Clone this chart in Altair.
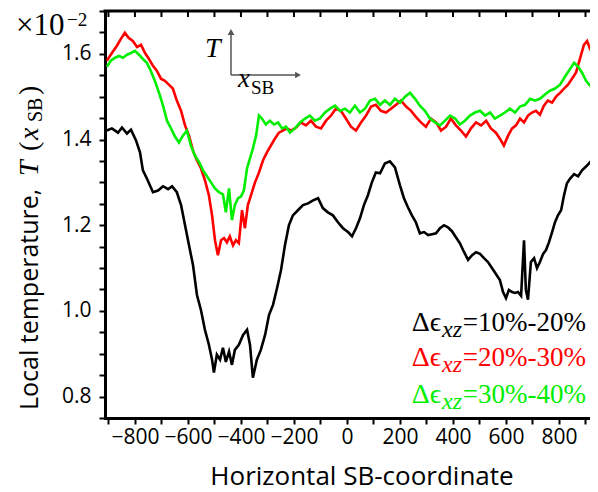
import altair as alt
import pandas as pd

# ---------------- data ----------------
black_x = [-906,-887,-864,-849,-830,-815,-796,-781,-770,-755,
           -732,-713,-694,-675,-660,-642,-626,-611,-596,-581,
           -566,-551,-536,-521,-509,-502,-491,-479,-468,-457,
           -445,-434,-423,-408,-392,-377,-366,-355,-340,-325,
           -309,-294,-279,-264,-249,-234,-219,-204,-185,-166,
           -147,-128,-109,-91,-72,-53,-34,-15,4,19,
           34,49,64,79,94,109,125,143,162,181,
           200,215,230,245,260,275,291,306,321,336,
           351,366,381,396,411,426,442,457,472,487,
           502,517,532,547,562,577,589,600,611,623,
           634,645,657,668,675,683,694,706,717,728,
           740,751,762,774,785,796,808,819,830,842,
           857,872,887,902,917,932,947]
black_T = [1.421,1.426,1.416,1.428,1.414,1.423,1.398,1.370,1.328,1.309,
           1.277,1.281,1.291,1.284,1.291,1.277,1.247,1.200,1.153,1.107,
           1.037,1.002,0.956,0.921,0.886,0.856,0.898,0.886,0.914,0.881,
           0.905,0.874,0.909,0.921,0.944,0.956,0.921,0.844,0.886,0.909,
           0.944,0.991,1.014,1.053,1.095,1.153,1.200,1.223,1.235,1.247,
           1.251,1.258,1.263,1.240,1.230,1.223,1.207,1.193,1.184,1.174,
           1.193,1.216,1.247,1.270,1.300,1.323,1.321,1.344,1.349,1.335,
           1.293,1.263,1.242,1.223,1.207,1.181,1.184,1.177,1.179,1.181,
           1.193,1.200,1.195,1.186,1.172,1.158,1.137,1.119,1.130,1.137,
           1.133,1.123,1.114,1.100,1.086,1.072,1.044,1.030,1.049,1.044,
           1.042,1.044,1.035,1.165,1.049,1.026,1.114,1.123,1.100,1.114,
           1.133,1.142,1.160,1.184,1.207,1.223,1.235,1.270,1.298,1.309,
           1.319,1.314,1.328,1.337,1.347,1.356,1.367]

red_x = [-906,-887,-868,-853,-838,-823,-808,-792,-777,-762,
         -747,-732,-717,-702,-687,-672,-657,-642,-626,-611,
         -596,-581,-566,-551,-536,-521,-509,-498,-487,-475,
         -464,-453,-442,-430,-419,-408,-396,-385,-374,-362,
         -347,-332,-317,-302,-287,-272,-257,-242,-226,-211,
         -192,-174,-155,-136,-117,-98,-79,-60,-42,-23,
         -4,15,34,53,72,91,109,128,147,166,
         185,204,223,242,260,279,298,317,336,355,
         374,392,411,430,449,468,487,506,525,543,
         562,577,592,608,623,638,653,668,683,698,
         713,728,743,758,774,789,804,819,834,849,
         864,879,894,906,917,932,947]
red_T = [1.584,1.602,1.619,1.635,1.649,1.637,1.630,1.616,1.621,1.602,
         1.588,1.572,1.560,1.542,1.537,1.528,1.519,1.491,1.467,1.433,
         1.409,1.374,1.351,1.333,1.305,1.270,1.223,1.165,1.130,1.165,
         1.170,1.160,1.174,1.153,1.165,1.158,1.235,1.193,1.247,1.270,
         1.300,1.323,1.351,1.370,1.386,1.402,1.416,1.421,1.426,1.421,
         1.428,1.440,1.433,1.444,1.430,1.426,1.444,1.456,1.472,1.467,
         1.449,1.430,1.421,1.440,1.456,1.477,1.481,1.467,1.463,1.472,
         1.481,1.491,1.477,1.467,1.453,1.440,1.430,1.449,1.440,1.421,
         1.430,1.449,1.433,1.421,1.407,1.426,1.440,1.433,1.444,1.426,
         1.416,1.402,1.386,1.409,1.426,1.433,1.449,1.440,1.456,1.463,
         1.467,1.458,1.479,1.491,1.486,1.500,1.509,1.519,1.528,1.542,
         1.556,1.588,1.621,1.630,1.612,1.595,1.607]

green_x = [-906,-891,-875,-860,-845,-830,-815,-800,-785,-770,
           -755,-740,-725,-709,-694,-679,-664,-649,-634,-619,
           -604,-589,-574,-558,-543,-528,-513,-498,-483,-468,
           -457,-445,-434,-423,-411,-400,-389,-377,-366,-355,
           -343,-332,-321,-306,-291,-275,-260,-245,-230,-215,
           -196,-177,-158,-140,-121,-102,-83,-64,-45,-26,
           -8,11,30,49,68,87,106,125,143,162,
           181,200,219,238,257,275,294,313,332,351,
           370,389,408,426,445,464,483,502,521,540,
           558,577,596,615,634,653,672,691,709,728,
           747,766,785,804,823,842,857,872,887,902,
           917,932,947]
green_T = [1.570,1.584,1.591,1.595,1.591,1.598,1.602,1.607,1.598,1.588,
           1.579,1.560,1.537,1.509,1.479,1.444,1.426,1.407,1.393,1.409,
           1.421,1.386,1.363,1.347,1.328,1.314,1.300,1.286,1.277,1.272,
           1.230,1.286,1.212,1.247,1.263,1.267,1.281,1.333,1.356,1.379,
           1.409,1.456,1.449,1.435,1.444,1.435,1.440,1.426,1.430,1.416,
           1.426,1.440,1.449,1.456,1.444,1.449,1.463,1.472,1.479,1.467,
           1.472,1.463,1.479,1.463,1.472,1.491,1.495,1.481,1.491,1.481,
           1.495,1.486,1.500,1.509,1.495,1.479,1.467,1.449,1.440,1.433,
           1.444,1.456,1.449,1.435,1.444,1.456,1.463,1.467,1.456,1.463,
           1.449,1.456,1.463,1.472,1.463,1.477,1.481,1.495,1.491,1.495,
           1.505,1.514,1.519,1.528,1.547,1.565,1.579,1.570,1.556,1.537,
           1.526,1.542,1.556]

series_names = ["10-20", "20-30", "30-40"]
series_colors = ["#000000", "#ff0000", "#00ee00"]
legend_values = ["=10%-20%", "=20%-30%", "=30%-40%"]

x_ticks = list(range(-900, 901, 100))
y_ticks = [round(0.75 + 0.05 * i, 2) for i in range(20)]
x_domain = [-913, 917]
y_domain = [0.75, 1.70]

assert len(black_x) == len(black_T)
assert len(red_x) == len(red_T)
assert len(green_x) == len(green_T)

rows = []
for name, xs, ts in zip(series_names, [black_x, red_x, green_x], [black_T, red_T, green_T]):
    for xv, tv in zip(xs, ts):
        rows.append({"x": xv, "T": tv, "series": name})
df = pd.DataFrame(rows)

# ---------------- layout ----------------
W, H = 485, 407
SANS = "Open Sans"
SERIF = "Liberation Serif"

xscale = alt.Scale(domain=x_domain, nice=False, zero=False)
yscale = alt.Scale(domain=y_domain, nice=False, zero=False)

x_axis = alt.Axis(values=x_ticks,
                  labelExpr="datum.value % 200 == 0 ? format(datum.value, 'd') : ''",
                  tickSize=6, tickWidth=2, tickColor="black",
                  domainColor="black", domainWidth=3, domainCap="square",
                  labelFont=SANS, labelFontSize=21, labelColor="black",
                  labelPadding=2, labelOverlap=False, labelFlush=False,
                  title=None, grid=False)
y_axis = alt.Axis(values=y_ticks,
                  labelExpr="round(datum.value*100) % 20 == 0 ? format(datum.value, '.1f') : ''",
                  tickSize=6, tickWidth=2, tickColor="black",
                  domainColor="black", domainWidth=3, domainCap="square",
                  labelFont=SANS, labelFontSize=21, labelColor="black",
                  labelPadding=8, labelOverlap=False, labelFlush=False,
                  title=None, grid=False)

lines = alt.Chart(df).mark_line(strokeWidth=2.6, clip=True).encode(
    x=alt.X("x:Q", scale=xscale, axis=x_axis),
    y=alt.Y("T:Q", scale=yscale, axis=y_axis),
    color=alt.Color("series:N", scale=alt.Scale(domain=series_names, range=series_colors), legend=None),
)

top_ticks = alt.Chart(pd.DataFrame({"x": x_ticks})).mark_rule(strokeWidth=2, color="black").encode(
    x=alt.X("x:Q", scale=xscale, axis=x_axis),
    y=alt.value(0), y2=alt.value(6),
)

one = pd.DataFrame({"a": [0]})
top_border = alt.Chart(one).mark_rule(strokeWidth=3, color="black", strokeCap="square").encode(
    x=alt.value(0), x2=alt.value(W), y=alt.value(0))


def txt(text, x, y, size, font=SERIF, color="black", align="left", baseline="alphabetic",
        angle=0, style="normal"):
    return alt.Chart(one).mark_text(text=text, font=font, fontSize=size, color=color,
                                    align=align, baseline=baseline, angle=angle,
                                    fontStyle=style).encode(x=alt.value(x), y=alt.value(y))


layers = [lines, top_ticks, top_border]

# axis titles
layers.append(txt("Horizontal SB-coordinate", 257, 474, 26, font=SANS, align="center"))
layers.append(txt("Local temperature,", -75, 399, 25, font=SANS, angle=270, baseline="middle"))
layers.append(txt("T", -75, 165, 28, angle=270, baseline="middle", style="italic"))
layers.append(txt("(", -75, 140, 28, angle=270, baseline="middle"))
layers.append(txt("x", -75, 129, 28, angle=270, baseline="middle", style="italic"))
layers.append(txt("SB", -69, 111, 20, angle=270, baseline="middle"))
layers.append(txt(")", -75, 84, 28, angle=270, baseline="middle"))

# exponent
layers.append(txt("×10", -89, 24, 31))
layers.append(txt("−2", -38, 15, 19))

# inset axes sketch
GRAY = "#555555"
layers.append(alt.Chart(one).mark_rule(color=GRAY, strokeWidth=1.5).encode(
    x=alt.value(126), y=alt.value(22), y2=alt.value(64)))
layers.append(alt.Chart(one).mark_rule(color=GRAY, strokeWidth=1.5).encode(
    x=alt.value(126), x2=alt.value(191), y=alt.value(64)))
layers.append(alt.Chart(one).mark_point(shape="triangle-up", filled=True, size=45, color=GRAY, opacity=1).encode(
    x=alt.value(126), y=alt.value(21)))
layers.append(alt.Chart(one).mark_point(shape="triangle-right", filled=True, size=45, color=GRAY, opacity=1).encode(
    x=alt.value(193), y=alt.value(64)))
layers.append(txt("T", 100, 46, 28, style="italic"))
layers.append(txt("x", 133, 76, 27, style="italic"))
layers.append(txt("SB", 146, 83, 19))

# legend text
legend_y = [320, 355, 392]
for val, col, yy in zip(legend_values, series_colors, legend_y):
    layers.append(txt(val, 481, yy, 27, color=col, align="right"))
    layers.append(txt("xz", 357, yy + 6, 24, color=col, align="right", style="italic"))
    layers.append(txt("Δϵ", 336, yy, 28, color=col, align="right"))

chart = alt.layer(*layers).properties(
    width=W, height=H,
    padding={"left": 97, "top": 3, "right": 0, "bottom": 76},
    autosize=alt.AutoSizeParams(type="none"),
).configure_view(stroke=None)

chart.save("out.html", embed_options={"renderer": "svg", "actions": False})
